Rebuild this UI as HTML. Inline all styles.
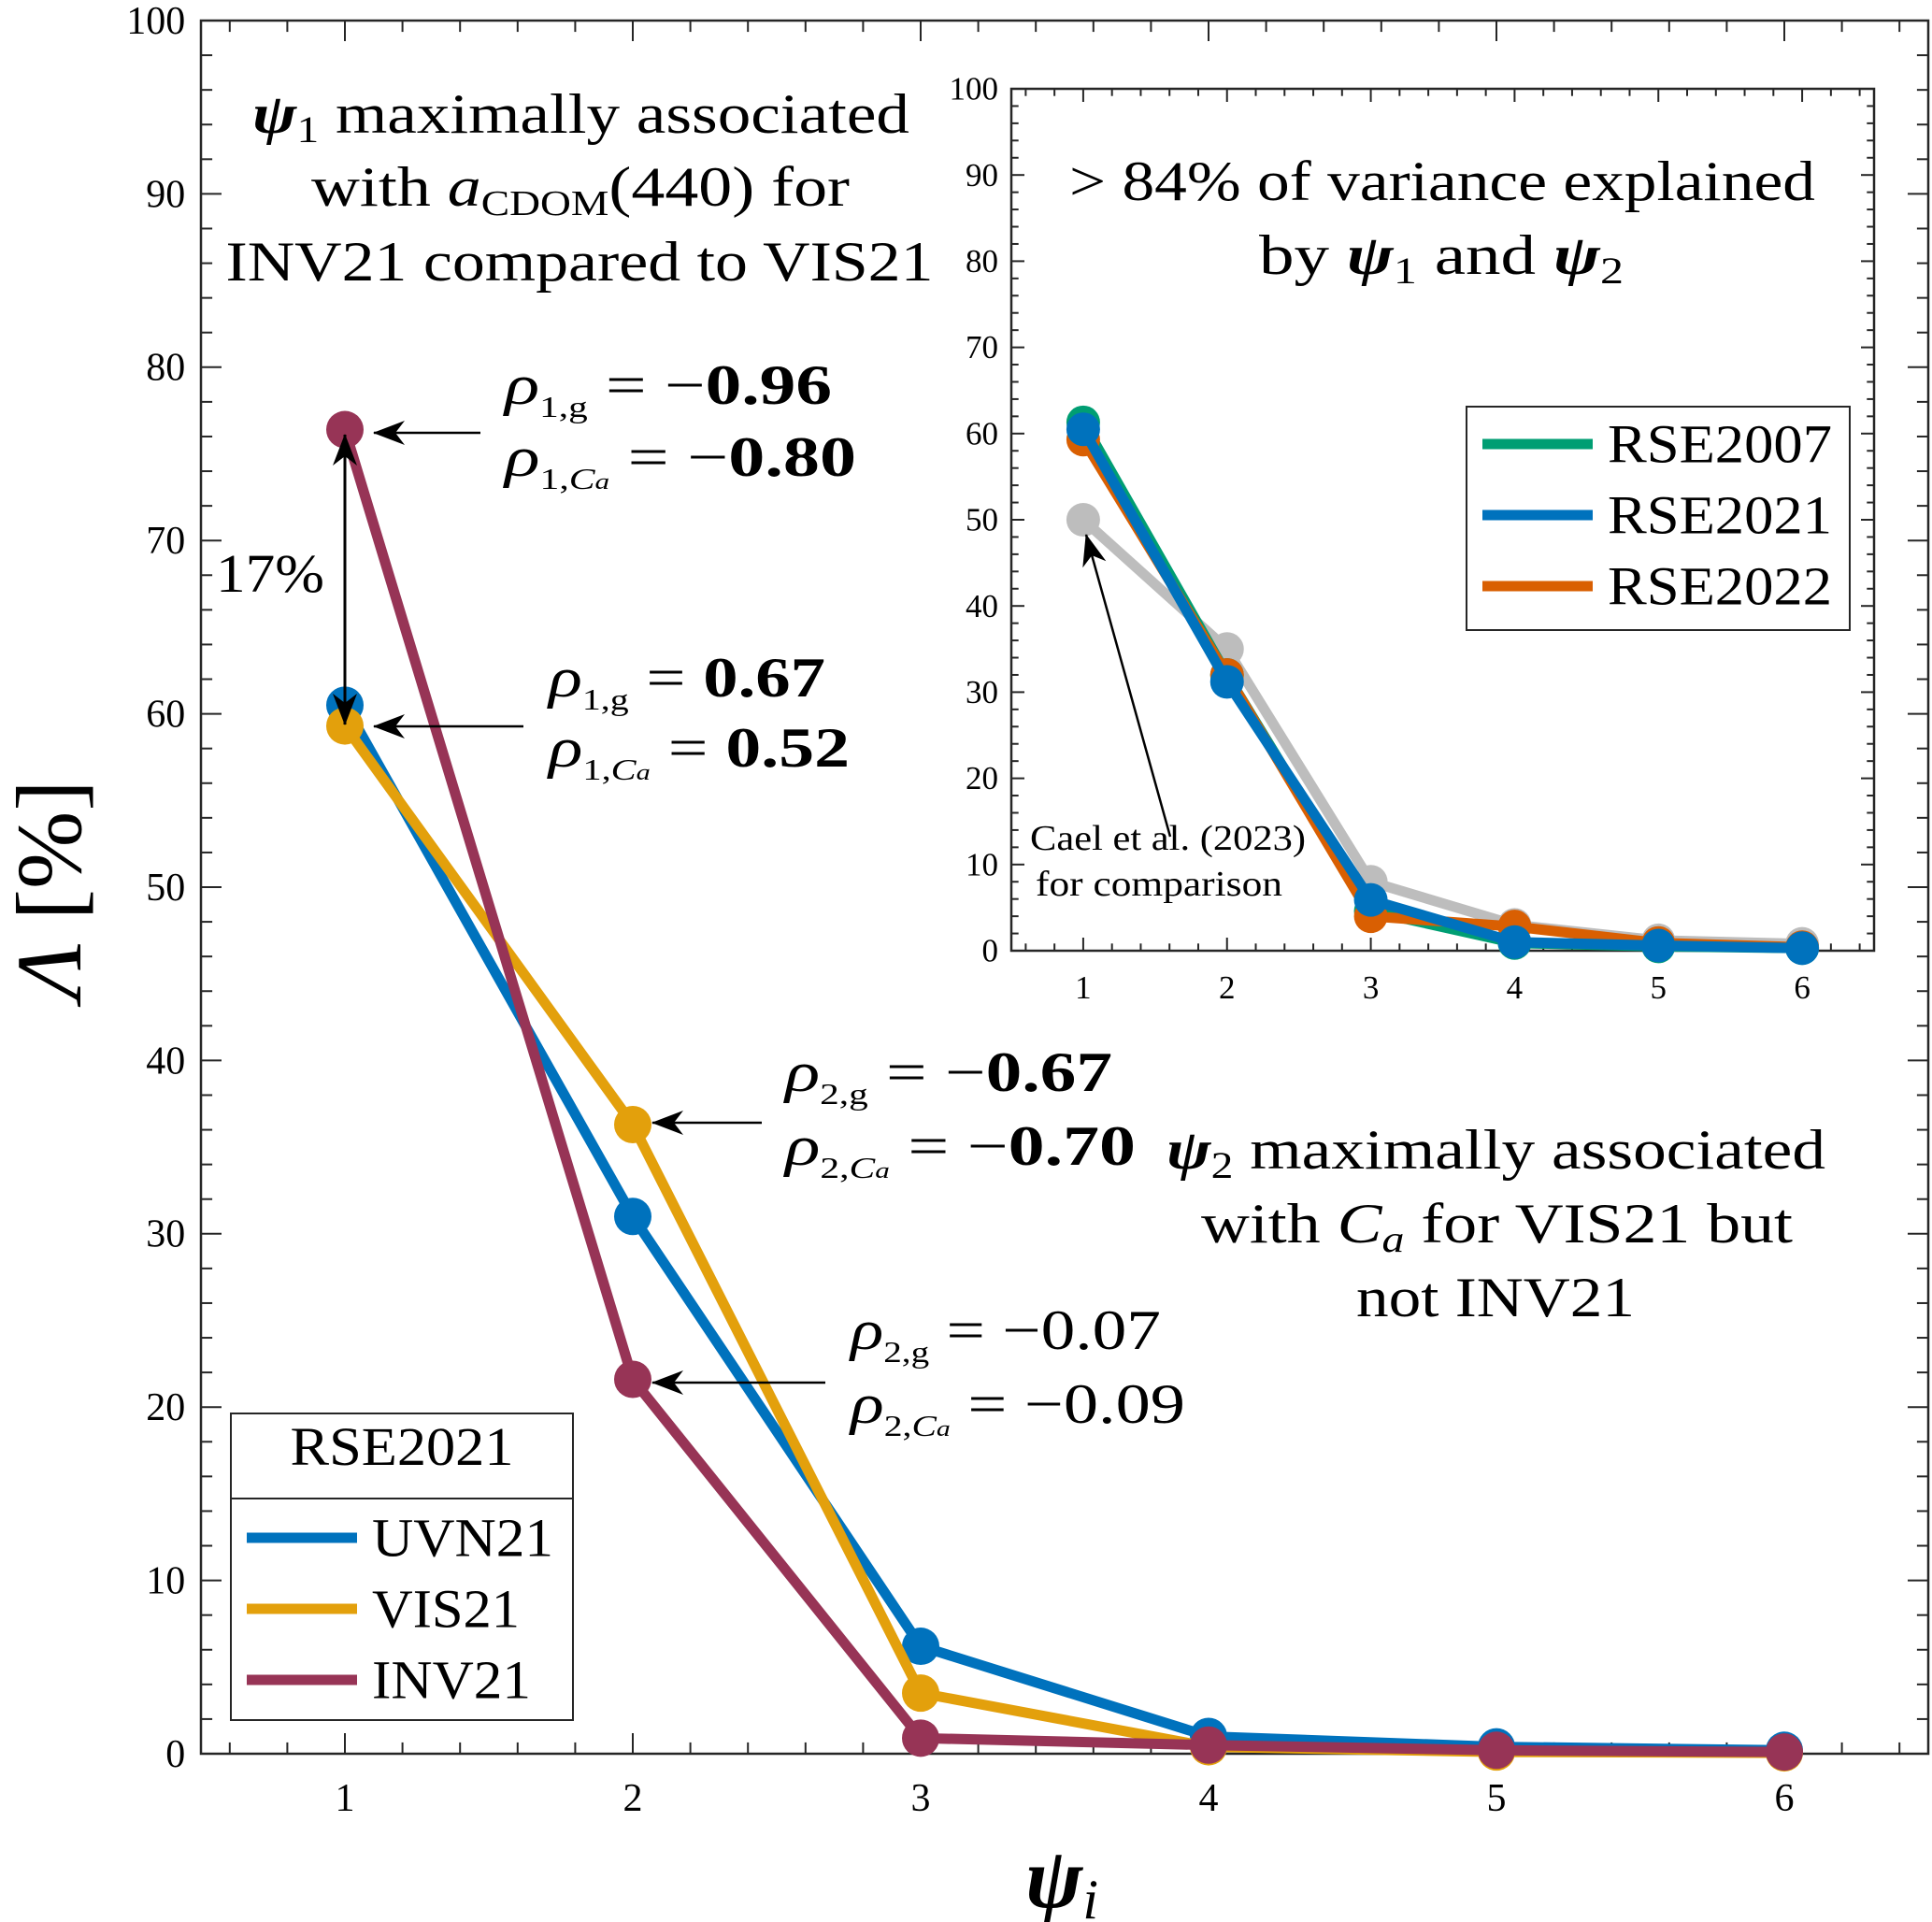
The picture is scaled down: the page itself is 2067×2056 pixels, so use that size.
<!DOCTYPE html>
<html><head><meta charset="utf-8"><style>
html,body{margin:0;padding:0;background:#fff}
svg{display:block}
text{font-family:"Liberation Serif","DejaVu Serif",serif;fill:#000}
</style></head><body>
<svg id="chart" width="2067" height="2056" viewBox="0 0 2067 2056" xmlns="http://www.w3.org/2000/svg">
<defs>
<marker id="ah" markerWidth="34" markerHeight="26" refX="33" refY="13" orient="auto" markerUnits="userSpaceOnUse" viewBox="0 0 34 26">
<path d="M0,0 L34,13 L0,26 L10,13 Z" fill="#000"/>
</marker>
</defs>
<g id="main"></g>
<g id="inset"></g>
<g id="ann">
<text x="270" y="142" font-size="60" textLength="703" lengthAdjust="spacingAndGlyphs"><tspan font-weight="bold" font-style="italic">ψ</tspan><tspan font-size="40" dy="10">1</tspan><tspan dy="-10"> maximally associated</tspan></text>
<text x="333" y="220" font-size="60" textLength="576" lengthAdjust="spacingAndGlyphs">with <tspan font-style="italic">a</tspan><tspan font-size="38" dy="10">CDOM</tspan><tspan dy="-10">(440) for</tspan></text>
<text x="620" y="300" font-size="60" text-anchor="middle" textLength="757" lengthAdjust="spacingAndGlyphs">INV21 compared to VIS21</text>
<text x="1543" y="214" font-size="60" text-anchor="middle" textLength="798" lengthAdjust="spacingAndGlyphs">&gt; 84% of variance explained</text>
<text x="1347" y="293" font-size="60" textLength="390" lengthAdjust="spacingAndGlyphs">by <tspan font-weight="bold" font-style="italic">ψ</tspan><tspan font-size="40" dy="10">1</tspan><tspan dy="-10"> and </tspan><tspan font-weight="bold" font-style="italic">ψ</tspan><tspan font-size="40" dy="10">2</tspan></text>

<text x="540" y="432" font-size="60" textLength="350" lengthAdjust="spacingAndGlyphs"><tspan font-style="italic">ρ</tspan><tspan font-size="32" dy="14">1,g</tspan><tspan dy="-14"> = −</tspan><tspan font-weight="bold">0.96</tspan></text>
<text x="540" y="509" font-size="60" textLength="376" lengthAdjust="spacingAndGlyphs"><tspan font-style="italic">ρ</tspan><tspan font-size="32" dy="14">1,<tspan font-style="italic">C<tspan font-size="24">a</tspan></tspan></tspan><tspan dy="-14"> = −</tspan><tspan font-weight="bold">0.80</tspan></text>
<text x="587" y="745" font-size="60" textLength="296" lengthAdjust="spacingAndGlyphs"><tspan font-style="italic">ρ</tspan><tspan font-size="32" dy="14">1,g</tspan><tspan dy="-14"> = </tspan><tspan font-weight="bold">0.67</tspan></text>
<text x="587" y="820" font-size="60" textLength="322" lengthAdjust="spacingAndGlyphs"><tspan font-style="italic">ρ</tspan><tspan font-size="32" dy="14">1,<tspan font-style="italic">C<tspan font-size="24">a</tspan></tspan></tspan><tspan dy="-14"> = </tspan><tspan font-weight="bold">0.52</tspan></text>
<text x="840" y="1167" font-size="60" textLength="350" lengthAdjust="spacingAndGlyphs"><tspan font-style="italic">ρ</tspan><tspan font-size="32" dy="14">2,g</tspan><tspan dy="-14"> = −</tspan><tspan font-weight="bold">0.67</tspan></text>
<text x="840" y="1246" font-size="60" textLength="375" lengthAdjust="spacingAndGlyphs"><tspan font-style="italic">ρ</tspan><tspan font-size="32" dy="14">2,<tspan font-style="italic">C<tspan font-size="24">a</tspan></tspan></tspan><tspan dy="-14"> = −</tspan><tspan font-weight="bold">0.70</tspan></text>
<text x="910" y="1443" font-size="60" textLength="332" lengthAdjust="spacingAndGlyphs"><tspan font-style="italic">ρ</tspan><tspan font-size="32" dy="14">2,g</tspan><tspan dy="-14"> = −0.07</tspan></text>
<text x="910" y="1522" font-size="60" textLength="358" lengthAdjust="spacingAndGlyphs"><tspan font-style="italic">ρ</tspan><tspan font-size="32" dy="14">2,<tspan font-style="italic">C<tspan font-size="24">a</tspan></tspan></tspan><tspan dy="-14"> = −0.09</tspan></text>

<text x="1248" y="1250" font-size="60" textLength="705" lengthAdjust="spacingAndGlyphs"><tspan font-weight="bold" font-style="italic">ψ</tspan><tspan font-size="40" dy="10">2</tspan><tspan dy="-10"> maximally associated</tspan></text>
<text x="1285" y="1329" font-size="60" textLength="633" lengthAdjust="spacingAndGlyphs">with <tspan font-style="italic">C</tspan><tspan font-style="italic" font-size="40" dy="10">a</tspan><tspan dy="-10"> for VIS21 but</tspan></text>
<text x="1451" y="1408" font-size="60" textLength="298" lengthAdjust="spacingAndGlyphs">not INV21</text>
<text x="231" y="633" font-size="58" textLength="116" lengthAdjust="spacingAndGlyphs">17%</text>
<text x="1102" y="909" font-size="38" textLength="295" lengthAdjust="spacingAndGlyphs">Cael et al. (2023)</text>
<text x="1108" y="958" font-size="38" textLength="264" lengthAdjust="spacingAndGlyphs">for comparison</text>

<line x1="514" y1="463" x2="400" y2="463" stroke="#000" stroke-width="2.5" marker-end="url(#ah)"/>
<line x1="560" y1="777" x2="400" y2="777" stroke="#000" stroke-width="2.5" marker-end="url(#ah)"/>
<line x1="815" y1="1201" x2="698" y2="1201" stroke="#000" stroke-width="2.5" marker-end="url(#ah)"/>
<line x1="883" y1="1479" x2="698" y2="1479" stroke="#000" stroke-width="2.5" marker-end="url(#ah)"/>
<line x1="369" y1="620" x2="369" y2="465" stroke="#000" stroke-width="3" marker-end="url(#ah)"/>
<line x1="369" y1="620" x2="369" y2="775" stroke="#000" stroke-width="3" marker-end="url(#ah)"/>
<line x1="1252" y1="895" x2="1162" y2="572" stroke="#000" stroke-width="2.5" marker-end="url(#ah)"/>

<text transform="translate(86,952) rotate(-90)" font-size="100" text-anchor="middle"><tspan font-style="italic">Λ</tspan> [%]</text>
<text x="1136" y="2040" font-size="92" text-anchor="middle"><tspan font-weight="bold" font-style="italic">ψ</tspan><tspan font-style="italic" font-size="60" dy="12">i</tspan></text>
</g>
<g id="legends"></g>
</svg>
<script>
// ---- main chart data ----
const mainCategories = [1, 2, 3, 4, 5, 6];
const uvn21 = [60.5, 31.0, 6.2, 1.0, 0.4, 0.2];
const vis21 = [59.3, 36.3, 3.5, 0.4, 0.1, 0.05];
const inv21 = [76.4, 21.6, 0.9, 0.5, 0.2, 0.1];
const mainYTicks = [0, 10, 20, 30, 40, 50, 60, 70, 80, 90, 100];
// ---- inset data ----
const insetCategories = [1, 2, 3, 4, 5, 6];
const rse2007 = [61.3, 32.0, 4.6, 0.9, 0.5, 0.3];
const rse2021 = [60.5, 31.2, 5.9, 1.0, 0.6, 0.3];
const rse2022 = [59.3, 32.0, 4.0, 2.8, 0.9, 0.4];
const cael2023 = [50.0, 35.0, 8.0, 3.0, 1.2, 0.8];
const insetYTicks = [0, 10, 20, 30, 40, 50, 60, 70, 80, 90, 100];

const NS = 'http://www.w3.org/2000/svg';
function mk(tag, attrs, parent) {
  const e = document.createElementNS(NS, tag);
  for (const k in attrs) e.setAttribute(k, attrs[k]);
  parent.appendChild(e);
  return e;
}

function drawAxes(g, box, xmin, xmax, ymin, ymax, cats, yTicks, fs, tl, seriesList, lw, r, name) {
  const sx = v => box.l + (v - xmin) / (xmax - xmin) * (box.r - box.l);
  const sy = v => box.b - (v - ymin) / (ymax - ymin) * (box.b - box.t);
  const frame = mk('rect', {x: box.l, y: box.t, width: box.r - box.l, height: box.b - box.t, fill: '#fff', stroke: '#262626', 'stroke-width': 2.5}, g);
  
  
  for (let v = ymin; v <= ymax + 1e-9; v += 2) {
    const major = Math.abs(v % 10) < 1e-9;
    const L = major ? tl : tl * 0.55;
    mk('line', {x1: box.l, x2: box.l + L, y1: sy(v), y2: sy(v), stroke: '#262626', 'stroke-width': 2}, g);
    mk('line', {x1: box.r, x2: box.r - L, y1: sy(v), y2: sy(v), stroke: '#262626', 'stroke-width': 2}, g);
  }
  for (let v = Math.ceil(xmin * 5) / 5; v <= xmax + 1e-9; v += 0.2) {
    const major = Math.abs(v - Math.round(v)) < 1e-6;
    const L = major ? tl : tl * 0.55;
    mk('line', {x1: sx(v), x2: sx(v), y1: box.b, y2: box.b - L, stroke: '#262626', 'stroke-width': 2}, g);
    mk('line', {x1: sx(v), x2: sx(v), y1: box.t, y2: box.t + L, stroke: '#262626', 'stroke-width': 2}, g);
  }
  yTicks.forEach(v => {
    const t = mk('text', {x: box.l - fs * 0.4, y: sy(v) + fs * 0.33, 'font-size': fs, 'text-anchor': 'end', fill: '#262626'}, g);
    
    
    t.textContent = v;
  });
  cats.forEach(v => {
    const t = mk('text', {x: sx(v), y: box.b + fs * 1.45, 'font-size': fs, 'text-anchor': 'middle', fill: '#262626'}, g);
    
    
    t.textContent = v;
  });
  seriesList.forEach(s => {
    const sg = mk('g', {}, g);
    
    
    const pts = cats.map((c, i) => sx(c) + ',' + sy(s.vals[i])).join(' ');
    const pl = mk('polyline', {points: pts, fill: 'none', stroke: s.color, 'stroke-width': lw, 'stroke-linejoin': 'round'}, sg);
    
    
    cats.forEach((c, i) => {
      const p = mk('circle', {cx: sx(c), cy: sy(s.vals[i]), r: r, fill: s.color}, sg);
      
      
    });
  });
}

const mainG = document.getElementById('main');
drawAxes(mainG, {l: 215, r: 2063, t: 22, b: 1876}, 0.5, 6.5, 0, 100, mainCategories, mainYTicks, 42, 22,
  [{name: 'uvn21', vals: uvn21, color: '#0072BD'},
   {name: 'vis21', vals: vis21, color: '#E3A00C'},
   {name: 'inv21', vals: inv21, color: '#973456'}], 11, 20, 'main');

const insetG = document.getElementById('inset');
drawAxes(insetG, {l: 1082, r: 2005, t: 95, b: 1017}, 0.5, 6.5, 0, 100, insetCategories, insetYTicks, 35, 14,
  [{name: 'cael2023', vals: cael2023, color: '#BDBDBD'},
   {name: 'rse2007', vals: rse2007, color: '#009E73'},
   {name: 'rse2022', vals: rse2022, color: '#D95F02'},
   {name: 'rse2021', vals: rse2021, color: '#0072BD'}], 11, 18, 'inset');

const lg = document.getElementById('legends');
function legend(box, title, entries, name, lineX1, lineX2, textX, fs) {
  const g = mk('g', {}, lg);
  
  
  mk('rect', {x: box.x, y: box.y, width: box.w, height: box.h, fill: '#fff', stroke: '#262626', 'stroke-width': 2}, g);
  if (title) {
    const t = mk('text', {x: box.x + box.w / 2, y: title.y, 'font-size': fs, 'text-anchor': 'middle', textLength: title.len, lengthAdjust: 'spacingAndGlyphs'}, g);
    
    
    t.textContent = title.text;
    mk('line', {x1: box.x, x2: box.x + box.w, y1: title.sep, y2: title.sep, stroke: '#262626', 'stroke-width': 2}, g);
  }
  entries.forEach(e => {
    const eg = mk('g', {}, g);
    
    
    mk('line', {x1: lineX1, x2: lineX2, y1: e.y, y2: e.y, stroke: e.color, 'stroke-width': 11}, eg);
    const t = mk('text', {x: textX, y: e.y + fs * 0.34, 'font-size': fs, textLength: e.len, lengthAdjust: 'spacingAndGlyphs'}, eg);
    t.textContent = e.label;
  });
}
legend({x: 247, y: 1512, w: 366, h: 328}, {text: 'RSE2021', y: 1567, sep: 1603, len: 239},
  [{label: 'UVN21', color: '#0072BD', y: 1645, len: 194}, {label: 'VIS21', color: '#E3A00C', y: 1721, len: 158}, {label: 'INV21', color: '#973456', y: 1797, len: 170}],
  'main-legend', 264, 382, 398, 58);
legend({x: 1569, y: 435, w: 410, h: 239}, null,
  [{label: 'RSE2007', color: '#009E73', y: 475, len: 240}, {label: 'RSE2021', color: '#0072BD', y: 551, len: 240}, {label: 'RSE2022', color: '#D95F02', y: 627, len: 240}],
  'inset-legend', 1586, 1704, 1720, 58);
</script>
</body></html>
